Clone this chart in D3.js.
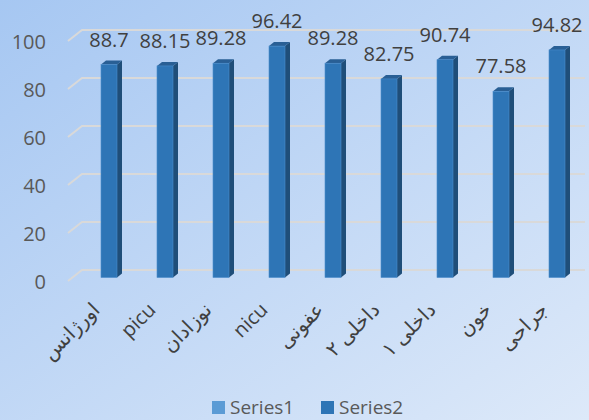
<!DOCTYPE html>
<html>
<head>
<meta charset="utf-8">
<script src="https://cdn.jsdelivr.net/npm/d3@7"></script>
<style>
  html, body { margin: 0; padding: 0; }
  body { width: 589px; height: 420px; overflow: hidden; }
  text { font-family: "Open Sans", "DejaVu Sans", sans-serif; }
</style>
</head>
<body>
<div id="chart"></div>
<script>
// chart data
const categories = ['اورژانس', 'picu', 'نوزادان', 'nicu', 'عفونی', 'داخلی ۲', 'داخلی ۱', 'خون', 'جراحی'];
const series1 = [];   // Series1 has no bars in the chart, only a legend entry
const series2 = [88.7, 88.15, 89.28, 96.42, 89.28, 82.75, 90.74, 77.58, 94.82];
const yTicks = [0, 20, 40, 60, 80, 100];
const seriesNames = ['Series1', 'Series2'];

const width = 589, height = 420;

// 3d look: back wall offset and bar depth
const wall = { dx: 14, dy: -11 };
const depth = { dx: 5, dy: -4 };
const barWidth = 16;

const svg = d3.select('#chart').append('svg')
    .attr('width', width)
    .attr('height', height);

const defs = svg.append('defs');
const bg = defs.append('linearGradient').attr('id', 'bg')
    .attr('x1', '0%').attr('y1', '0%').attr('x2', '100%').attr('y2', '100%');
bg.append('stop').attr('offset', '0%').attr('stop-color', '#a6c7f2');
bg.append('stop').attr('offset', '100%').attr('stop-color', '#dde9f9');

svg.append('rect').attr('width', width).attr('height', height).attr('fill', 'url(#bg)');

// front plane scale
const y = d3.scaleLinear().domain([0, 100]).range([281, 41]);
const x = d3.scaleBand().domain(categories).range([81, 585]).padding(0);

// gridlines on back wall + floor diagonal
const grid = svg.append('g').attr('class', 'grid');
yTicks.forEach(t => {
    grid.append('path')
        .attr('d', `M68,${y(t)}L${68 + wall.dx},${y(t) + wall.dy}L585,${y(t) + wall.dy}`)
        .attr('fill', 'none')
        .attr('stroke', '#d9d9d9')
        .attr('stroke-width', 2);
});

// y axis labels
const yAxis = svg.append('g')
    .attr('transform', 'translate(46,0)')
    .call(d3.axisLeft(y).tickValues(yTicks).tickSize(0).tickPadding(0));
yAxis.select('.domain').remove();
yAxis.selectAll('text')
    .attr('fill', '#595959')
    .attr('font-size', 20)
    .attr('font-family', '"Open Sans", sans-serif')
    .attr('dy', '0.35em');

// bars (drawn on a plane a bit behind the front edge)
const barShift = -3.5;
const bars = svg.append('g').attr('class', 'bars');
categories.forEach((c, i) => {
    const v = series2[i];
    const x0 = x(c) + (x.bandwidth() - barWidth) / 2;
    const x1 = x0 + barWidth;
    const top = y(v) + barShift;
    const bottom = y(0) + barShift;
    const g = bars.append('g');
    g.append('path')
        .attr('d', `M${x1},${top}L${x1 + depth.dx},${top + depth.dy}L${x1 + depth.dx},${bottom + depth.dy}L${x1},${bottom}Z`)
        .attr('fill', '#1f4e79');
    g.append('path')
        .attr('d', `M${x0},${top}L${x0 + depth.dx},${top + depth.dy}L${x1 + depth.dx},${top + depth.dy}L${x1},${top}Z`)
        .attr('fill', '#295f95');
    g.append('rect')
        .attr('x', x0).attr('y', top)
        .attr('width', barWidth).attr('height', bottom - top)
        .attr('fill', '#2e75b6')
        .attr('stroke', '#4a8ccb')
        .attr('stroke-width', 0.6);
    g.append('text')
        .attr('x', x0 + barWidth / 2)
        .attr('y', top - 18)
        .attr('text-anchor', 'middle')
        .attr('font-size', 20)
        .attr('fill', '#404040')
        .text(v);
});

// category labels, rotated
svg.append('g').attr('class', 'cats')
    .selectAll('text')
    .data(categories)
    .join('text')
    .attr('transform', d => `translate(${x(d) + x.bandwidth() / 2 - 8},311) rotate(-45)`)
    .attr('text-anchor', 'end')
    .attr('font-size', 20)
    .attr('fill', '#404040')
    .text(d => d);

// legend
const legendColors = ['#5b9bd5', '#2e75b6'];
const legend = svg.append('g').attr('class', 'legend');
const legendX = [212, 321];
seriesNames.forEach((s, i) => {
    legend.append('rect')
        .attr('x', legendX[i]).attr('y', 401)
        .attr('width', 13).attr('height', 13)
        .attr('fill', legendColors[i]);
    legend.append('text')
        .attr('x', legendX[i] + 18).attr('y', 414)
        .attr('font-size', 19)
        .attr('fill', '#595959')
        .text(s);
});
</script>
</body>
</html>
